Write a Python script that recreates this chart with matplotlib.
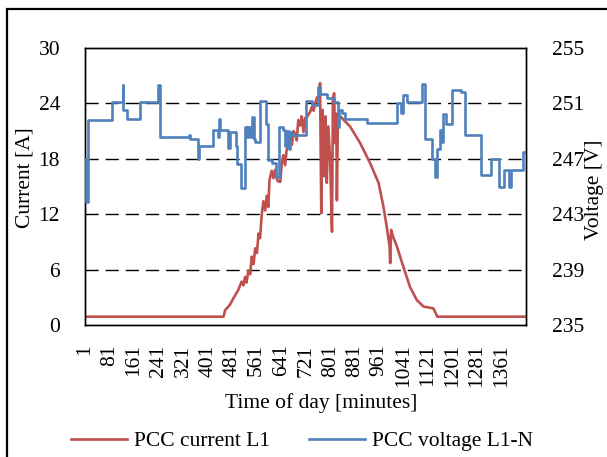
import matplotlib
matplotlib.use('Agg')
import matplotlib.pyplot as plt
from matplotlib.patches import Rectangle

# ============================================================================ #
# data (minute of day -> value)

current_minutes = [1, 453, 458, 474, 485, 501, 512, 518, 523, 528, 534, 540,
                   545, 551, 556, 562, 567, 572, 578, 583, 589, 594, 599, 603,
                   610, 616, 621, 629, 638, 643, 648, 654, 659, 665, 670, 676,
                   681, 687, 692, 697, 703, 708, 714, 719, 725, 730, 736, 741,
                   747, 752, 759, 764, 768, 772, 776, 782, 786, 790, 795, 801,
                   807, 810, 814, 817, 821, 823, 826, 832, 834, 866, 899, 932,
                   959, 975, 986, 995, 997, 1000, 1006, 1019, 1040, 1062, 1084,
                   1106, 1138, 1151, 1440]
current_amps = [0.9, 0.9, 1.6, 2.2, 2.9, 3.8, 4.7, 4.3, 5.2, 4.6, 5.9, 5.5,
                7.4, 6.6, 8.3, 7.8, 9.9, 9.4, 12.1, 13.4, 12.4, 14.0, 12.8, 15.7,
                16.7, 15.9, 16.8, 15.6, 15.5, 17.5, 18.4, 17.3, 19.0, 19.3, 20.4, 19.5,
                21.0, 20.7, 20.0, 22.2, 21.6, 22.6, 20.9, 22.4, 22.5, 22.8, 23.1, 23.6,
                23.2, 24.0, 24.7, 24.2, 26.2, 12.1, 23.3, 16.1, 22.6, 15.4, 21.5, 17.9,
                10.1, 24.4, 25.1, 19.7, 22.9, 13.5, 21.5, 22.6, 22.6, 21.5, 19.7, 17.5,
                15.4, 12.8, 10.6, 8.5, 6.7, 10.3, 9.6, 8.5, 6.3, 4.1, 2.7,
                2.0, 1.8, 0.9, 0.9]

# voltage is a step signal: value holds from one minute to the next
voltage_minutes = [1, 3, 11, 89, 123, 126, 138, 181, 239, 247, 341, 344,
                   368, 372, 420, 436, 439, 442, 468, 474, 493, 498, 511, 523,
                   529, 534, 540, 546, 551, 556, 573, 590, 597, 610, 624, 633,
                   648, 654, 659, 665, 670, 676, 721, 741, 760, 768, 792, 812,
                   826, 830, 840, 848, 921, 1019, 1031, 1040, 1052, 1101, 1111, 1133,
                   1143, 1151, 1160, 1165, 1170, 1180, 1199, 1228, 1242, 1294, 1327, 1351,
                   1370, 1385, 1390, 1432, 1440]
voltage_volts = [247.0, 243.9, 249.8, 251.1, 252.3, 250.5, 249.9, 251.1, 252.3, 248.6, 248.7, 248.4,
                 247.0, 247.9, 249.1, 248.6, 249.9, 249.1, 247.8, 248.9, 247.9, 246.6, 244.9, 249.3,
                 248.6, 249.3, 248.6, 250.0, 248.4, 248.2, 251.2, 249.5, 246.9, 246.7, 245.7, 249.3,
                 249.1, 247.9, 249.0, 247.7, 248.9, 248.7, 251.2, 250.9, 252.2, 251.7, 251.4, 251.1,
                 249.3, 250.5, 250.3, 249.9, 249.6, 251.0, 250.3, 251.6, 251.1, 252.4, 248.4, 247.0,
                 245.7, 247.7, 249.1, 248.2, 250.2, 249.5, 252.0, 251.8, 248.7, 245.8, 247.0, 245.0,
                 246.2, 245.0, 246.2, 247.5, 247.5]

x_ticks = [1, 81, 161, 241, 321, 401, 481, 561, 641, 721, 801, 881, 961,
           1041, 1121, 1201, 1281, 1361]
current_ticks = [0, 6, 12, 18, 24, 30]
voltage_ticks = [235, 239, 243, 247, 251, 255]

# ============================================================================ #

plt.rcParams['font.family'] = ['Liberation Serif', 'DejaVu Serif']
plt.rcParams['font.size'] = 15.5

red = '#C0504D'
blue = '#4F81BD'

W, H = 607, 457
fig = plt.figure(figsize=(W / 100, H / 100), dpi=100)

# outer frame of the original figure (right/bottom sides fall outside the crop)
fig.patches.append(Rectangle((6.5 / W, -0.2), 1.5, 1.2 - 8.5 / H,
                             transform=fig.transFigure, fill=False,
                             edgecolor='black', linewidth=1.6))

ax = fig.add_axes([85 / W, 1 - 325 / H, (526 - 85) / W, (325 - 48) / H])
ax2 = ax.twinx()

for lvl in current_ticks[1:-1]:
    ax.axhline(lvl, color='black', lw=1.0, dashes=(9.5, 5), zorder=0)

ax.plot(current_minutes, current_amps, color=red, lw=1.9, zorder=3)
ax2.plot(voltage_minutes, voltage_volts, color=blue, lw=1.9,
         drawstyle='steps-post', zorder=3)

ax.set_xlim(0.5, 1440.5)
ax.set_ylim(0, 30)
ax2.set_ylim(235, 255)
ax.set_yticks(current_ticks)
ax2.set_yticks(voltage_ticks)
ax.set_xticks(x_ticks)
ax.set_xticklabels([str(t) for t in x_ticks], rotation=90)

ax.tick_params(axis='both', length=0, pad=14)
ax.tick_params(axis='y', pad=18)
ax2.tick_params(axis='y', length=0, pad=19)

for a in (ax, ax2):
    for s in a.spines.values():
        s.set_color('black')
        s.set_linewidth(1.0)

fig.text(25 / W, 1 - 178 / H, 'Current [A]', rotation=90,
         ha='center', va='center')
fig.text(595 / W, 1 - 190 / H, 'Voltage [V]', rotation=90,
         ha='center', va='center')
fig.text(321 / W, 1 - 403 / H, 'Time of day [minutes]',
         ha='center', va='center')

h1, = ax.plot([], [], color=red, lw=1.9)
h2, = ax.plot([], [], color=blue, lw=1.9)
fig.legend([h1, h2], ['PCC current L1', 'PCC voltage L1-N'],
           loc='center', bbox_to_anchor=(302 / W, 1 - 441 / H), ncol=2,
           frameon=False, handlelength=2.6, handletextpad=0.35,
           columnspacing=1.8, borderpad=0)

fig.savefig('out.png', dpi=100)
